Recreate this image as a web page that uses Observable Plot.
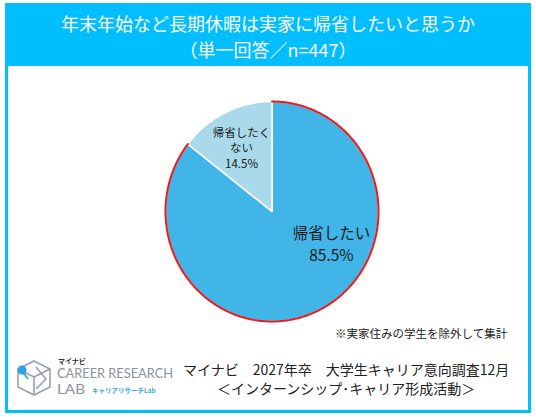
<!DOCTYPE html>
<html><head><meta charset="utf-8">
<script src="https://cdn.jsdelivr.net/npm/d3@7"></script>
<script src="https://cdn.jsdelivr.net/npm/@observablehq/plot@0.6"></script>
<style>
html,body{margin:0;padding:0;background:#fff;}
#wrap{position:relative;width:536px;height:417px;overflow:hidden;background:#fff;font-family:"Noto Sans CJK JP","Noto Sans",sans-serif;}
#frame{position:absolute;left:5px;top:3px;width:526px;height:410px;border:3px solid #00BEFF;box-sizing:border-box;}
#banner{position:absolute;left:5px;top:3px;width:526px;height:63px;background:#00BEFF;color:#fff;text-align:center;font-size:18px;line-height:26px;padding-top:7px;box-sizing:border-box;}
#chart{position:absolute;left:0;top:66px;}
#note{position:absolute;left:335px;top:325px;font-size:11.5px;color:#222;white-space:nowrap;}
#source{position:absolute;left:183px;top:360px;font-size:14px;color:#222;line-height:19px;text-align:center;white-space:nowrap;}
#logo{position:absolute;left:14px;top:355px;}
</style></head>
<body><div id="wrap">
<div id="frame"></div>
<div id="banner">年末年始など長期休暇は実家に帰省したいと思うか<br>（単一回答／n=447）</div>
<div id="chart"></div>
<div id="note">※実家住みの学生を除外して集計</div>
<div id="source">マイナビ　2027年卒　大学生キャリア意向調査12月<br>＜インターンシップ･キャリア形成活動＞</div>
<svg id="logo" width="170" height="45" viewBox="0 0 170 45">
  <g fill="none" stroke="#9aa0a8" stroke-width="1.6">
    <path d="M20 6 L36 14 L36 32 L20 40 L4 32 L4 14 Z"/>
    <path d="M20 22 L36 14 M20 22 L20 40 M20 22 L4 14"/>
    <path d="M22 12 L32 24 L22 34"/>
  </g>
  <line x1="8" y1="16" x2="14" y2="24" stroke="#3aa8df" stroke-width="2"/>
  <circle cx="8" cy="15" r="4.5" fill="#2aa3df"/>
  <text x="44" y="9" font-size="7" font-weight="bold" fill="#333">マイナビ</text>
  <text x="43" y="23" font-size="12.5" fill="#8d939b" font-family="Lato,'Open Sans',sans-serif" textLength="116" lengthAdjust="spacingAndGlyphs">CAREER RESEARCH</text>
  <text x="43" y="39" font-size="12.5" fill="#8d939b" font-family="Lato,'Open Sans',sans-serif" textLength="28" lengthAdjust="spacingAndGlyphs">LAB</text>
  <text x="78" y="38" font-size="6.5" font-weight="bold" fill="#3aa8df">キャリアリサーチLab</text>
</svg>
</div>
<script>
const categories = ["帰省したい", "帰省したくない"];
const labelTexts = ["帰省したい", "帰省したく\nない"];
const values = [85.5, 14.5];
const colors = ["#41B5E8", "#A9D9EB"];

const pie = d3.pie().sort(null).value(d => d)(values);
function arcPoints(a0, a1, n) {
  const pts = [];
  const steps = Math.max(2, Math.ceil((a1 - a0) / (2 * Math.PI) * n));
  for (let i = 0; i <= steps; i++) {
    const a = a0 + (a1 - a0) * i / steps;
    pts.push({x: Math.sin(a), y: Math.cos(a)});
  }
  return pts;
}
const slices = pie.map((p, i) => ({
  name: categories[i],
  fill: colors[i],
  pts: [{x: 0, y: 0}, ...arcPoints(p.startAngle, p.endAngle, 360), {x: 0, y: 0}]
}));
const outline = arcPoints(pie[0].startAngle, pie[0].endAngle, 360);
const labelData = pie.map((p, i) => {
  const m = (p.startAngle + p.endAngle) / 2;
  return {x: Math.sin(m) * 0.65, y: Math.cos(m) * 0.65, text: labelTexts[i] + "\n" + values[i].toFixed(1) + "%", i};
});

const plot = Plot.plot({
  width: 536,
  height: 280,
  x: {domain: [-1, 1], range: [165, 378], axis: null},
  y: {domain: [-1, 1], range: [255, 35], axis: null},
  style: {fontFamily: "'Noto Sans CJK JP', sans-serif", background: "transparent"},
  marks: [
    ...slices.map(s => Plot.line(s.pts, {x: "x", y: "y", fill: s.fill, stroke: "#fff", strokeWidth: 1.5, strokeLinejoin: "round"})),
    Plot.line(outline, {x: "x", y: "y", stroke: "#F01818", strokeWidth: 2}),
    Plot.text(labelData.filter(d => d.i === 0), {x: "x", y: "y", text: "text", dx: 29, dy: -33, fontSize: 15.5, lineHeight: 1.4, fill: "#1a1a1a"}),
    Plot.text(labelData.filter(d => d.i === 1), {x: "x", y: "y", text: "text", dx: 0, dy: 0, fontSize: 11.5, lineHeight: 1.35, fill: "#1a1a1a"})
  ]
});
document.getElementById("chart").appendChild(plot);
</script>
</body></html>
